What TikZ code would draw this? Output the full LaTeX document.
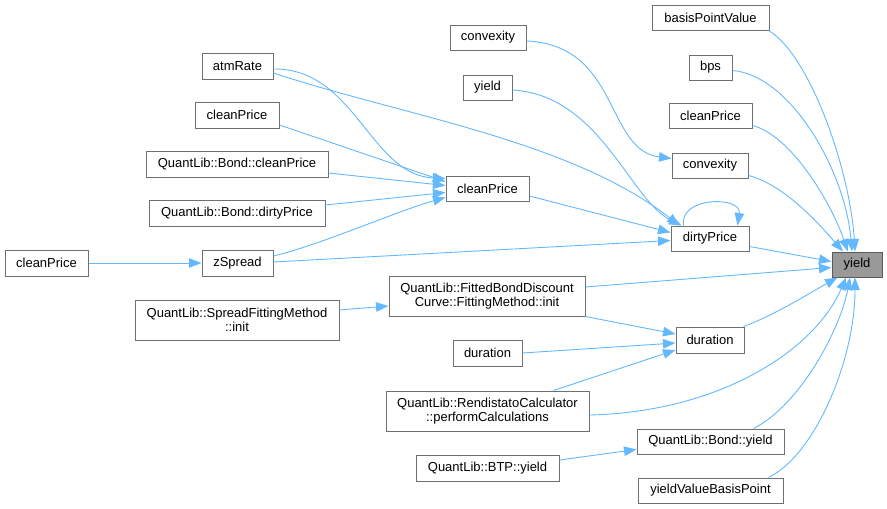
\documentclass[tikz,border=0pt]{standalone}
\usepackage{fontspec}
\setmainfont{Liberation Sans}
\usetikzlibrary{arrows.meta}
\definecolor{boxgray}{HTML}{707070}
\definecolor{edgeblue}{HTML}{63B8FF}
\definecolor{focus}{HTML}{999999}
\begin{document}
\begin{tikzpicture}[x=1pt,y=-1pt,
 box/.style={draw=boxgray, line width=1pt, fill=white, inner sep=0pt, align=center, font=\fontsize{13}{14.5}\selectfont},
 e/.style={draw=edgeblue, line width=0.9pt, -{Triangle[length=12.5pt,width=9.5pt]}},
]
\useasboundingbox (0,0) rectangle (887,509);
% right column
\node[box, minimum width=117pt, minimum height=25pt] (bpv) at (710.5,17.5) {basisPointValue};
\node[box, minimum width=43pt, minimum height=25pt] (bps) at (710.5,67.5) {bps};
\node[box, minimum width=83pt, minimum height=25pt] (cpR) at (710.5,115.5) {cleanPrice};
\node[box, minimum width=76pt, minimum height=25pt] (cvR) at (710,165.5) {convexity};
\node[box, minimum width=78pt, minimum height=25pt] (dp) at (710,238.5) {dirtyPrice};
\node[box, minimum width=68pt, minimum height=26pt] (durR) at (710,340) {duration};
\node[box, minimum width=147pt, minimum height=25pt] (byR) at (710.5,441.5) {QuantLib::Bond::yield};
\node[box, minimum width=145pt, minimum height=25pt] (yvbp) at (710.5,490.5) {yieldValueBasisPoint};
\node[box, fill=focus, draw=boxgray!80!black, minimum width=50pt, minimum height=25pt] (Y) at (857,264.5) {yield};
% middle column
\node[box, minimum width=76pt, minimum height=25pt] (cvL) at (488,37.5) {convexity};
\node[box, minimum width=49pt, minimum height=25pt] (yL) at (487.5,87.5) {yield};
\node[box, minimum width=83pt, minimum height=25pt] (cpM) at (487.5,188.5) {cleanPrice};
\node[box, minimum width=196pt, minimum height=40pt] (fit) at (487,296) {QuantLib::FittedBondDiscount\\Curve::FittingMethod::init};
\node[box, minimum width=69pt, minimum height=26pt] (durL) at (487.5,353) {duration};
\node[box, minimum width=203pt, minimum height=40pt] (rend) at (487.5,411) {QuantLib::RendistatoCalculator\\::performCalculations};
\node[box, minimum width=143pt, minimum height=26pt] (btp) at (487.5,468) {QuantLib::BTP::yield};
% left column
\node[box, minimum width=71pt, minimum height=26pt] (atm) at (237.5,66) {atmRate};
\node[box, minimum width=84pt, minimum height=26pt] (cpA) at (237,115) {cleanPrice};
\node[box, minimum width=182pt, minimum height=26pt] (bcp) at (237,164) {QuantLib::Bond::cleanPrice};
\node[box, minimum width=176pt, minimum height=26pt] (bdp) at (237,213) {QuantLib::Bond::dirtyPrice};
\node[box, minimum width=71pt, minimum height=26pt] (zs) at (237.5,263) {zSpread};
\node[box, minimum width=204pt, minimum height=40pt] (sfm) at (237,320) {QuantLib::SpreadFittingMethod\\::init};
\node[box, minimum width=83pt, minimum height=26pt] (cpF) at (46.5,263) {cleanPrice};
% edges into yield
\draw[e] ([xshift=-1pt]bpv.south east) .. controls (810,55) and (850,170) .. ([xshift=-2pt]Y.north);
\draw[e] ([yshift=-3pt]bps.east) .. controls (790,75) and (845,170) .. ([xshift=-5pt]Y.north);
\draw[e] ([yshift=-10pt]cpR.east) .. controls (790,135) and (830,200) .. ([xshift=-9pt]Y.north);
\draw[e] ([yshift=-10pt]cvR.east) .. controls (785,185) and (820,225) .. ([xshift=-14pt]Y.north);
\draw[e] ([yshift=-8pt]dp.east) -- ([yshift=3pt]Y.west);
\draw[e] ([yshift=9pt]fit.east) -- ([yshift=-3pt]Y.west);
\draw[e] ([xshift=-1pt]durR.north east) .. controls (775,315) and (815,290) .. ([xshift=6pt]Y.south west);
\draw[e] ([yshift=-4pt]rend.east) .. controls (720,412) and (815,350) .. ([xshift=-11pt]Y.south);
\draw[e] ([xshift=43pt]byR.north) .. controls (800,405) and (840,330) .. ([xshift=-7pt]Y.south);
\draw[e] ([xshift=58pt]yvbp.north) .. controls (815,455) and (855,360) .. ([xshift=-2pt]Y.south);
% middle edges
\draw[e] ([yshift=-3.5pt]cvL.east) .. controls (620,45) and (605,150) .. ([yshift=7pt]cvR.west);
\draw[e] ([yshift=-2.5pt]yL.east) .. controls (600,95) and (630,200) .. ([xshift=11pt]dp.north west);
\draw[e] ([yshift=-7pt]atm.east) .. controls (400,115) and (570,140) .. ([xshift=9pt]dp.north west);
\draw[e] ([yshift=-3pt]atm.east) .. controls (355,68) and (370,175) .. ([yshift=10pt]cpM.west);
\draw[e] ([yshift=-10pt]cpA.east) -- ([yshift=7pt]cpM.west);
\draw[e] ([yshift=-9pt]bcp.east) -- ([yshift=3pt]cpM.west);
\draw[e] ([yshift=8pt]bdp.east) -- ([yshift=-4pt]cpM.west);
\draw[e] ([yshift=7pt]zs.east) .. controls (320,245) and (400,210) .. ([yshift=-9pt]cpM.west);
\draw[e] ([yshift=1pt]zs.east) -- ([yshift=-2pt]dp.west);
\draw[e] ([yshift=-7.5pt]cpM.east) -- ([yshift=6pt]dp.west);
\draw[e] ([xshift=13pt]dp.north west) .. controls (679,196) and (742,196) .. ([xshift=-12pt]dp.north east);
\draw[e] (cpF.east) -- (zs.west);
\draw[e] ([yshift=10pt]sfm.east) -- ([yshift=-10pt]fit.west);
\draw[e] (fit.south east) -- ([yshift=6pt]durR.west);
\draw[e] (durL.east) -- ([yshift=-3pt]durR.west);
\draw[e] ([xshift=66pt]rend.north) -- ([yshift=-10pt]durR.west);
\draw[e] ([yshift=8pt]btp.east) -- ([yshift=-8pt]byR.west);
\end{tikzpicture}
\end{document}
